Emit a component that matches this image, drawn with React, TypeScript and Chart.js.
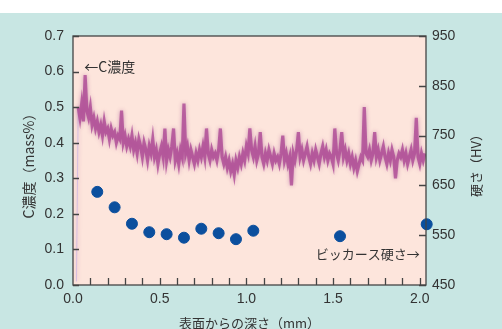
import React, { useEffect, useRef } from "react";
import { Chart, registerables } from "chart.js";

Chart.register(...registerables);

// C concentration profile (mass%), sampled every 0.01 mm starting at 0.02 mm
const cDepthStart = 0.02;
const cDepthStep = 0.01;
const cValues = [
  0.01, 0.50, 0.47, 0.51, 0.46, 0.59, 0.49, 0.47, 0.50, 0.45,
  0.47, 0.44, 0.46, 0.43, 0.45, 0.42, 0.46, 0.43, 0.44, 0.41,
  0.44, 0.42, 0.43, 0.40, 0.42, 0.41, 0.49, 0.40, 0.42, 0.39,
  0.41, 0.39, 0.42, 0.38, 0.40, 0.37, 0.41, 0.39, 0.36, 0.40,
  0.38, 0.35, 0.39, 0.37, 0.41, 0.36, 0.38, 0.34, 0.37, 0.39,
  0.36, 0.44, 0.35, 0.38, 0.36, 0.39, 0.44, 0.35, 0.37, 0.34,
  0.38, 0.36, 0.51, 0.37, 0.39, 0.35, 0.38, 0.36, 0.34, 0.37,
  0.35, 0.38, 0.36, 0.39, 0.36, 0.44, 0.37, 0.35, 0.38, 0.36,
  0.37, 0.35, 0.38, 0.44, 0.36, 0.34, 0.36, 0.33, 0.35, 0.32,
  0.34, 0.31, 0.35, 0.33, 0.36, 0.34, 0.37, 0.35, 0.39, 0.37,
  0.44, 0.38, 0.36, 0.39, 0.35, 0.37, 0.43, 0.36, 0.34, 0.37,
  0.35, 0.38, 0.36, 0.34, 0.37, 0.35, 0.36, 0.34, 0.37, 0.42,
  0.35, 0.37, 0.34, 0.36, 0.28, 0.37, 0.35, 0.38, 0.43, 0.36,
  0.38, 0.35, 0.37, 0.39, 0.36, 0.34, 0.37, 0.35, 0.38, 0.36,
  0.34, 0.37, 0.39, 0.36, 0.38, 0.35, 0.37, 0.36, 0.34, 0.44,
  0.37, 0.35, 0.38, 0.43, 0.36, 0.38, 0.35, 0.37, 0.34, 0.36,
  0.33, 0.35, 0.32, 0.34, 0.36, 0.35, 0.50, 0.37, 0.36, 0.38,
  0.35, 0.37, 0.43, 0.36, 0.38, 0.35, 0.37, 0.39, 0.36, 0.34,
  0.37, 0.35, 0.38, 0.36, 0.30, 0.35, 0.37, 0.36, 0.38, 0.35,
  0.37, 0.34, 0.36, 0.38, 0.35, 0.37, 0.47, 0.36, 0.34, 0.37,
  0.35, 0.37,
];

// Vickers hardness (HV)
const hvDepth = [0.14, 0.24, 0.34, 0.44, 0.54, 0.64, 0.74, 0.84, 0.94, 1.04, 1.54, 2.04];
const hvValues = [637, 606, 573, 556, 552, 545, 563, 554, 542, 559, 548, 572];

const xTickLabels = [0, 0.5, 1.0, 1.5, 2.0];
const xMinorTicks = [0.1, 0.2, 0.3, 0.4, 0.5, 0.6, 0.7, 0.8, 0.9, 1.0, 1.1, 1.2, 1.3, 1.4, 1.5, 1.6, 1.7, 1.8, 1.9, 2.0];
const cTickLabels = [0, 0.1, 0.2, 0.3, 0.4, 0.5, 0.6, 0.7];
const hvTickLabels = [450, 550, 650, 750, 850, 950];

const xTitle = "表面からの深さ（mm）";
const cTitle = "C濃度（mass%）";
const hvTitle = "硬さ（HV）";
const cNote = "←C濃度";
const hvNote = "ビッカース硬さ→";

const FONT = "'Liberation Sans', Arial, 'Noto Sans CJK JP', sans-serif";
const CJK = "'Noto Sans CJK JP', 'Liberation Sans', sans-serif";
const TEXT = "#333333";

const decoPlugin = {
  id: "deco",
  beforeDraw(chart: any) {
    const { ctx, chartArea: a, width, height } = chart;
    ctx.save();
    ctx.fillStyle = "#ffffff";
    ctx.fillRect(0, 0, width, height);
    ctx.fillStyle = "#c8e6e3";
    ctx.fillRect(0, 13, width, height - 13);
    ctx.fillStyle = "#fde5dc";
    ctx.fillRect(a.left, a.top, a.right - a.left, a.bottom - a.top);
    ctx.restore();
  },
  beforeDatasetDraw(chart: any, args: any) {
    if (args.index === 0) {
      chart.ctx.save();
      chart.ctx.shadowColor = "rgba(150,50,130,0.6)";
      chart.ctx.shadowBlur = 4;
    }
  },
  afterDatasetDraw(chart: any, args: any) {
    if (args.index === 0) chart.ctx.restore();
  },
  afterDraw(chart: any) {
    const { ctx, chartArea: a } = chart;
    const xs = chart.scales.x;
    const yl = chart.scales.y;
    const yr = chart.scales.y1;
    ctx.save();
    ctx.strokeStyle = "#444444";
    ctx.lineWidth = 1.3;
    ctx.strokeRect(a.left, a.top, a.right - a.left, a.bottom - a.top);
    ctx.beginPath();
    xMinorTicks.forEach((v) => {
      const px = Math.round(xs.getPixelForValue(v)) + 0.5;
      ctx.moveTo(px, a.bottom);
      ctx.lineTo(px, a.bottom - 7);
    });
    cTickLabels.forEach((v) => {
      const py = Math.round(yl.getPixelForValue(v)) + 0.5;
      ctx.moveTo(a.left, py);
      ctx.lineTo(a.left + 6, py);
    });
    hvTickLabels.forEach((v) => {
      const py = Math.round(yr.getPixelForValue(v)) + 0.5;
      ctx.moveTo(a.right, py);
      ctx.lineTo(a.right - 7, py);
    });
    ctx.stroke();

    ctx.fillStyle = TEXT;
    ctx.font = `13px ${CJK}`;
    ctx.textAlign = "center";
    ctx.textBaseline = "middle";
    ctx.fillText(xTitle, (a.left + a.right) / 2, 323);

    ctx.save();
    ctx.font = `14px ${CJK}`;
    ctx.translate(29, (a.top + a.bottom) / 2 + 2);
    ctx.rotate(-Math.PI / 2);
    ctx.fillText(cTitle, 0, 0);
    ctx.restore();

    ctx.save();
    ctx.translate(476, (a.top + a.bottom) / 2 + 2);
    ctx.rotate(-Math.PI / 2);
    ctx.fillText(hvTitle, 0, 0);
    ctx.restore();

    ctx.font = `14px ${CJK}`;
    ctx.textAlign = "left";
    ctx.fillText(cNote, xs.getPixelForValue(0.065), yl.getPixelForValue(0.615));
    ctx.font = `13px ${CJK}`;
    ctx.textAlign = "right";
    ctx.fillText(hvNote, xs.getPixelForValue(2.0), yr.getPixelForValue(512));
    ctx.restore();
  },
};

export default function App() {
  const ref = useRef<HTMLCanvasElement | null>(null);
  useEffect(() => {
    const cData = cValues.map((v, i) => ({ x: cDepthStart + i * cDepthStep, y: v }));
    const hvData = hvValues.map((v, i) => ({ x: hvDepth[i], y: v }));
    const chart = new Chart(ref.current as HTMLCanvasElement, {
      type: "scatter",
      data: {
        datasets: [
          {
            type: "line",
            label: "C",
            data: cData,
            yAxisID: "y",
            borderColor: "rgba(170,66,146,0.75)",
            borderWidth: 3.2,
            pointRadius: 0,
            tension: 0,
            fill: false,
            segment: {
              borderColor: (c: any) => (c.p0DataIndex === 0 ? "rgba(190,170,230,0.6)" : undefined),
              borderWidth: (c: any) => (c.p0DataIndex === 0 ? 1 : undefined),
            },
          } as any,
          {
            label: "HV",
            data: hvData,
            yAxisID: "y1",
            backgroundColor: "#0b4f9e",
            borderColor: "#0b4f9e",
            pointRadius: 5.5,
            clip: false,
          } as any,
        ],
      },
      options: {
        responsive: false,
        animation: false,
        devicePixelRatio: 1,
        layout: { padding: { top: 36, left: 0, right: 0, bottom: 0 } },
        plugins: { legend: { display: false }, tooltip: { enabled: false } },
        scales: {
          x: {
            type: "linear",
            min: 0,
            max: 2.036,
            grid: { display: false, drawTicks: false },
            border: { display: false },
            afterBuildTicks: (s: any) => {
              s.ticks = xTickLabels.map((v) => ({ value: v }));
            },
            afterFit: (s: any) => {
              s.height = 44;
            },
            ticks: {
              padding: 6,
              maxRotation: 0,
              autoSkip: false,
              color: TEXT,
              font: { family: FONT, size: 14 },
              callback: (v: any) => Number(v).toFixed(1),
            },
          },
          y: {
            type: "linear",
            position: "left",
            min: 0,
            max: 0.7,
            grid: { display: false, drawTicks: false },
            border: { display: false },
            afterBuildTicks: (s: any) => {
              s.ticks = cTickLabels.map((v) => ({ value: v }));
            },
            afterFit: (s: any) => {
              s.width = 73;
            },
            ticks: {
              padding: 9,
              autoSkip: false,
              color: TEXT,
              font: { family: FONT, size: 14 },
              callback: (v: any) => Number(v).toFixed(1),
            },
          },
          y1: {
            type: "linear",
            position: "right",
            min: 450,
            max: 950,
            grid: { display: false, drawTicks: false },
            border: { display: false },
            afterBuildTicks: (s: any) => {
              s.ticks = hvTickLabels.map((v) => ({ value: v }));
            },
            afterFit: (s: any) => {
              s.width = 76;
            },
            ticks: {
              padding: 6,
              autoSkip: false,
              color: TEXT,
              font: { family: FONT, size: 14 },
              callback: (v: any) => String(v),
            },
          },
        },
      },
      plugins: [decoPlugin],
    } as any);
    return () => chart.destroy();
  }, []);
  return (
    <div style={{ position: "fixed", left: 0, top: 0, width: 502, height: 329 }}>
      <canvas ref={ref} width={502} height={329} style={{ display: "block" }} />
    </div>
  );
}
